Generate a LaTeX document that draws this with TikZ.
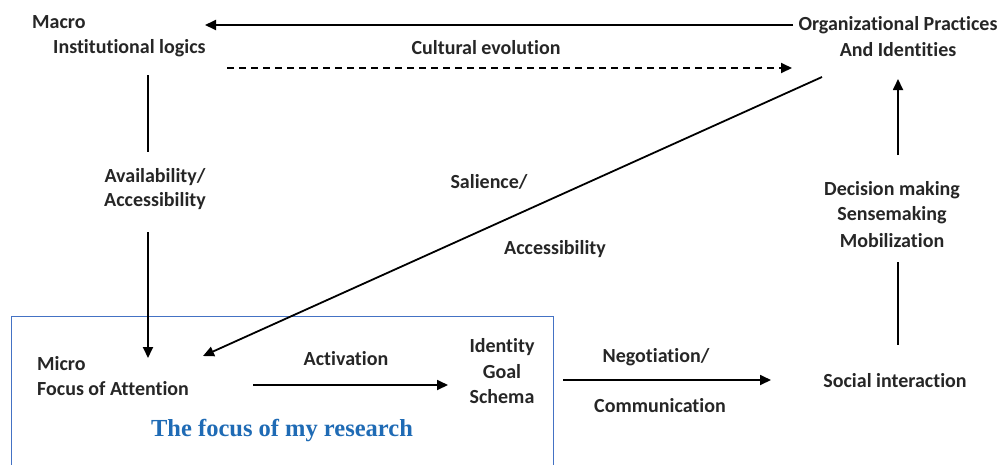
\documentclass[tikz,border=0pt]{standalone}
\usepackage{fontspec}
\setmainfont[Ligatures=NoCommon]{Carlito}
\newfontfamily\serifblue{Liberation Serif}
\usetikzlibrary{arrows.meta}
\definecolor{boxblue}{HTML}{4472C4}
\definecolor{txtblue}{HTML}{1F6BB5}
\begin{document}
\begin{tikzpicture}[x=1pt,y=-1pt,
  lbl/.style={font=\fontsize{20}{22}\selectfont\bfseries, inner sep=0pt, text=black!85},
  conn/.style={line width=1.8pt, black},
  tip/.style={-{Triangle[length=11pt,width=10pt]}}]
\useasboundingbox (0,0) rectangle (1008,464);
\fill[white] (0,0) rectangle (1008,464);
% texts
\node[lbl, anchor=west] (macro) at (32,22) {Macro};
\node[lbl, anchor=west] (inst) at (53,48) {Institutional logics};
\node[lbl] (org1) at (898,25) {Organizational Practices};
\node[lbl] (org2) at (898,50) {And Identities};
\node[lbl] (cult) at (486,48) {Cultural evolution};
\node[lbl] (avail) at (155,177) {Availability/};
\node[lbl] (acc1) at (155,201) {Accessibility};
\node[lbl] (sal) at (489,182) {Salience/};
\node[lbl] (acc2) at (555,249) {Accessibility};
\node[lbl] (dec) at (892,190) {Decision making};
\node[lbl] (sense) at (892,215) {Sensemaking};
\node[lbl] (mob) at (892,241) {Mobilization};
\node[lbl, anchor=west] (micro) at (37,364) {Micro};
\node[lbl, anchor=west] (foa) at (37,389) {Focus of Attention};
\node[lbl] (act) at (346,359) {Activation};
\node[lbl] (ident) at (502,347) {Identity};
\node[lbl] (goal) at (502,372) {Goal};
\node[lbl] (schema) at (502,397) {Schema};
\node[lbl] (neg) at (656,357) {Negotiation/};
\node[lbl] (comm) at (660,406) {Communication};
\node[lbl] (soc) at (895,381) {Social interaction};
\node[font=\serifblue\fontsize{24.5}{26}\selectfont\bfseries, text=txtblue, inner sep=0pt] (focus) at (282,431) {The focus of my research};
% box
\draw[boxblue, line width=1pt] (553,470) -- (553,316) -- (11,316) -- (11,470);
% coordinates
\coordinate (topR) at (793,25);
\coordinate (topL) at (205,25);
\coordinate (dashL) at (227,68);
\coordinate (dashR) at (792,68);
\coordinate (v1a) at (148,75);
\coordinate (v1b) at (148,152);
\coordinate (v2a) at (148,232);
\coordinate (v2b) at (148,358);
\coordinate (diagA) at (822,77);
\coordinate (diagB) at (203,356);
\coordinate (r1a) at (898,155);
\coordinate (r1b) at (898,79);
\coordinate (r2a) at (898,262);
\coordinate (r2b) at (898,345);
\coordinate (actA) at (253,385);
\coordinate (actB) at (448,385);
\coordinate (negA) at (563,380);
\coordinate (negB) at (771,380);
% connectors
\draw[conn, tip] (topR) -- (topL);
\draw[conn, tip, dash pattern=on 7pt off 5pt] (dashL) -- (dashR);
\draw[conn] (v1a) -- (v1b);
\draw[conn, tip] (v2a) -- (v2b);
\draw[conn, tip] (diagA) -- (diagB);
\draw[conn, tip] (r1a) -- (r1b);
\draw[conn] (r2a) -- (r2b);
\draw[conn, tip] (actA) -- (actB);
\draw[conn, tip] (negA) -- (negB);
\end{tikzpicture}
\end{document}
